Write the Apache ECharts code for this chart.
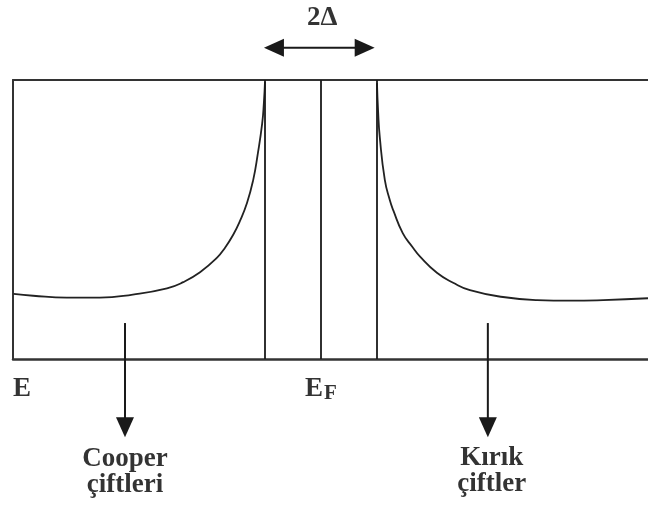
<!DOCTYPE html>
<html>
<head>
<meta charset="utf-8">
<script src="https://cdn.jsdelivr.net/npm/echarts@6/dist/echarts.min.js"></script>
<style>
  html, body { margin: 0; padding: 0; background: #fff; }
  #chart { width: 648px; height: 508px; }
</style>
</head>
<body>
<div id="chart"></div>
<script>
// energy in units of delta (E_F = 0), density of states normalised to the normal state
const leftE = [-5.49, -5.14, -4.54, -3.95, -3.36, -2.75, -2.46, -2.16, -1.86, -1.71, -1.57, -1.45, -1.32, -1.21, -1.13, -1.05, -1.02, -1.0];
const leftN = [1.05, 1.02, 0.99, 0.99, 1.04, 1.14, 1.24, 1.40, 1.63, 1.80, 2.00, 2.22, 2.52, 2.89, 3.30, 3.80, 4.13, 4.47];
const rightE = [1.0, 1.02, 1.05, 1.14, 1.23, 1.29, 1.46, 1.63, 1.77, 2.07, 2.36, 2.66, 3.25, 3.86, 4.45, 5.04, 5.84];
const rightN = [4.45, 4.0, 3.58, 2.89, 2.56, 2.40, 2.03, 1.81, 1.65, 1.39, 1.23, 1.11, 1.0, 0.95, 0.94, 0.95, 0.98];

// gap edges and fermi level
const levelLines = [-1, 0, 1];

// annotation arrows (data coords)
const gapArrowE = [-0.84, 0.78];
const gapArrowN = 5.02;
const pairArrowsE = [-3.5, 2.98];
const pairArrowN = [0.58, -1.1];

// labels
const labelTexts = ['2Δ', 'E', '{e|E}{f|F}', 'Cooper\nçiftleri', 'Kırık\nçiftler'];
const labelE = [0.02, -5.34, 0, -3.5, 3.05];
const labelN = [5.5, -0.48, -0.48, -1.82, -1.8];

const chart = echarts.init(document.getElementById('chart'));

const font = 'Liberation Serif';
const ink = '#1a1a1a';

function zip(xs, ys) {
  return xs.map((x, i) => [x, ys[i]]);
}

const arrowSeries = [];
// double arrow over the gap
arrowSeries.push({
  type: 'line',
  clip: false,
  silent: true,
  symbol: 'triangle',
  symbolSize: [18, 20],
  showSymbol: true,
  lineStyle: { color: ink, width: 2 },
  itemStyle: { color: ink },
  data: [
    { value: [gapArrowE[0], gapArrowN], symbolRotate: 90 },
    { value: [gapArrowE[1], gapArrowN], symbolRotate: -90 }
  ]
});
// arrows pointing down to the labels
pairArrowsE.forEach(e => {
  arrowSeries.push({
    type: 'line',
    clip: false,
    silent: true,
    symbol: 'triangle',
    symbolSize: [18, 20],
    showSymbol: true,
    lineStyle: { color: ink, width: 2 },
    itemStyle: { color: ink },
    data: [
      { value: [e, pairArrowN[0]], symbol: 'none' },
      { value: [e, pairArrowN[1]], symbolRotate: 180 }
    ]
  });
});

const curveStyle = { color: '#222', width: 1.8 };

const option = {
  animation: false,
  backgroundColor: '#fff',
  grid: { left: 13, right: 0, top: 80, bottom: 149 },
  xAxis: [
    {
      type: 'value', min: -5.5, max: 5.84,
      axisLine: { onZero: false, lineStyle: { color: '#333', width: 2.5 } },
      axisTick: { show: false }, axisLabel: { show: false }, splitLine: { show: false }
    },
    {
      type: 'value', position: 'top', min: -5.5, max: 5.84,
      axisLine: { onZero: false, lineStyle: { color: '#333', width: 2 } },
      axisTick: { show: false }, axisLabel: { show: false }, splitLine: { show: false }
    }
  ],
  yAxis: {
    type: 'value', min: 0, max: 4.5,
    axisLine: { show: true, onZero: false, lineStyle: { color: '#333', width: 2 } },
    axisTick: { show: false }, axisLabel: { show: false }, splitLine: { show: false }
  },
  series: [
    {
      name: 'Cooper',
      type: 'line',
      smooth: 0.5,
      showSymbol: false,
      lineStyle: curveStyle,
      data: zip(leftE, leftN),
      markLine: {
        silent: true,
        symbol: 'none',
        label: { show: false },
        lineStyle: { color: ink, width: 1.8, type: 'solid' },
        data: levelLines.map(v => ({ xAxis: v }))
      }
    },
    {
      name: 'Kirik',
      type: 'line',
      smooth: 0.5,
      showSymbol: false,
      lineStyle: curveStyle,
      data: zip(rightE, rightN)
    },
    ...arrowSeries,
    {
      type: 'scatter',
      clip: false,
      silent: true,
      symbolSize: 1,
      itemStyle: { color: 'rgba(0,0,0,0)' },
      label: {
        show: true,
        position: 'inside',
        color: '#000',
        fontFamily: font,
        fontWeight: 'bold',
        fontSize: 27,
        lineHeight: 26,
        align: 'center',
        verticalAlign: 'middle',
        formatter: p => labelTexts[p.dataIndex],
        rich: {
          e: { fontFamily: font, fontWeight: 'bold', fontSize: 27, color: '#000' },
          f: { fontFamily: font, fontWeight: 'bold', fontSize: 21, color: '#000', padding: [10, 0, 0, 1] }
        }
      },
      data: zip(labelE, labelN)
    }
  ]
};

chart.setOption(option);
</script>
</body>
</html>
